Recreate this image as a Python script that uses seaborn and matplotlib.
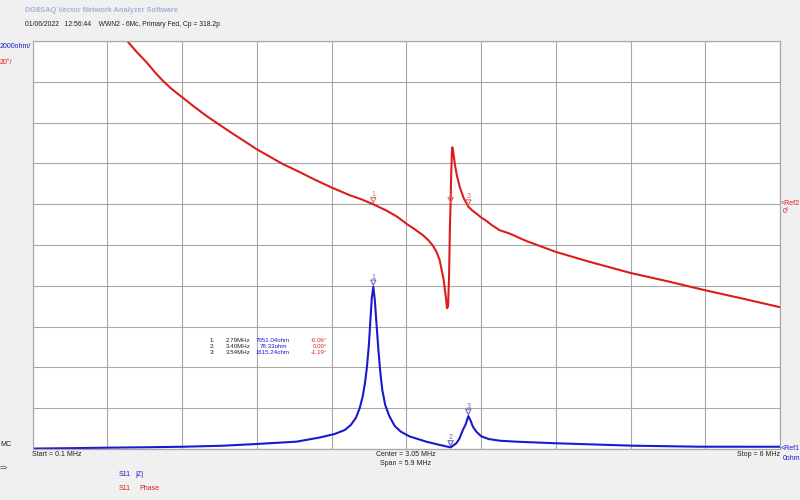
import numpy as np
import pandas as pd
import matplotlib
matplotlib.use("Agg")
import matplotlib.pyplot as plt
import seaborn as sns
from matplotlib.transforms import offset_copy

# ---------------- data ----------------
zmag_freq_mhz = [0.10, 0.40, 0.69, 1.00, 1.285, 1.60, 1.868, 2.184, 2.368, 2.484,
                 2.565, 2.612, 2.652, 2.683, 2.707, 2.723, 2.739, 2.755, 2.770, 2.778,
                 2.790, 2.802, 2.813, 2.829, 2.845, 2.861, 2.884, 2.916, 2.959, 3.007,
                 3.075, 3.209, 3.300, 3.400, 3.445, 3.468, 3.497, 3.520, 3.540, 3.559,
                 3.576, 3.602, 3.642, 3.700, 3.787, 3.919, 4.235, 4.839, 5.365, 6.000]
zmag_ohm = [20, 40, 64, 85, 110, 160, 245, 360, 564, 735,
            931, 1176, 1520, 2010, 2598, 3186, 3971, 5098, 6618, 7402,
            7951, 7304, 6324, 4951, 3775, 2892, 2157, 1618, 1128, 850,
            620, 358, 220, 78, 280, 490, 931, 1225, 1615, 1373,
            1093, 858, 620, 490, 407, 358, 280, 162, 113, 110]

phase_freq_mhz = [0.10, 0.40, 0.790, 0.853, 0.924, 1.000, 1.066, 1.132, 1.200, 1.282,
                  1.382, 1.477, 1.553, 1.658, 1.760, 1.868, 1.973, 2.066, 2.210, 2.329,
                  2.460, 2.604, 2.700, 2.790, 2.896, 2.980, 3.052, 3.117, 3.182, 3.224,
                  3.261, 3.290, 3.314, 3.346, 3.362, 3.372, 3.380, 3.388, 3.395, 3.400,
                  3.405, 3.410, 3.413, 3.420, 3.435, 3.450, 3.459, 3.472, 3.503, 3.540,
                  3.570, 3.604, 3.643, 3.683, 3.720, 3.785, 3.866, 4.000, 4.232, 4.500,
                  4.820, 5.100, 5.410, 5.700, 6.000]
phase_deg = [92, 90, 85.3, 79.6, 74.5, 69.6, 64.7, 60.3, 56.4, 52.4,
             47.5, 43.1, 39.9, 35.5, 31.4, 27.0, 23.3, 20.0, 15.7, 12.0,
             8.2, 4.4, 2.3, -0.06, -3.2, -6.2, -9.6, -12.3, -15.2, -17.6,
             -20.4, -23.5, -27.5, -37.3, -45.4, -51.0, -50.0, -35.0, -10.0, 0.0,
             15.0, 25.0, 27.9, 26.0, 19.0, 14.0, 11.8, 8.5, 3.0, -1.19,
             -3.0, -4.6, -6.6, -8.2, -10.0, -12.7, -14.4, -18.1, -23.4, -28.3,
             -33.7, -37.6, -42.2, -46.2, -50.5]

marker_ids = ["1", "2", "3"]
marker_freq_mhz = [2.79, 3.40, 3.54]
marker_freq_labels = ["2.79MHz", "3.40MHz", "3.54MHz"]
marker_zmag_ohm = [7951.04, 78.33, 1615.24]
marker_zmag_labels = ["7951.04ohm", "78.33ohm", "1615.24ohm"]
marker_phase_deg = [-0.06, 0.00, -1.19]
marker_phase_labels = ["-0.06°", "0.00°", "-1.19°"]

x_start, x_stop = 0.1, 6.0
z_min, z_max = 0, 20000
ph_min, ph_max = -120, 80
n_div = 10

# ---------------- style ----------------
BLUE = "#1a1acc"
RED = "#dd1c1c"
BLUE_M = "#6a6ac0"
RED_M = "#e06a6a"
GRID = "#a8a8a8"
BG = "#f0f0f0"
TXT = "#202020"

sns.set_theme(style="white")
plt.rcParams['font.family'] = ['Liberation Sans', 'DejaVu Sans']

fig = plt.figure(figsize=(8, 5), dpi=100, facecolor=BG)
W, H = 800, 500
L, R, T, B = 32.5, 780, 41, 449
ax = fig.add_axes([L / W, 1 - B / H, (R - L) / W, (B - T) / H])
ax.set_facecolor("white")
ax2 = ax.twinx()

df_z = pd.DataFrame({"f": zmag_freq_mhz, "z": zmag_ohm})
df_p = pd.DataFrame({"f": phase_freq_mhz, "p": phase_deg})

sns.lineplot(data=df_z, x="f", y="z", ax=ax, color=BLUE, linewidth=1.5,
             estimator=None, sort=False)
sns.lineplot(data=df_p, x="f", y="p", ax=ax2, color=RED, linewidth=1.5,
             estimator=None, sort=False)

ax.set_xlim(x_start, x_stop)
ax.set_ylim(z_min, z_max)
ax2.set_ylim(ph_min, ph_max)
ax.set_xticks(np.linspace(x_start, x_stop, n_div + 1))
ax.set_yticks(np.linspace(z_min, z_max, n_div + 1))
ax2.set_yticks([])
ax.grid(True, color=GRID, linewidth=0.8)
ax.tick_params(length=0, labelbottom=False, labelleft=False)
ax2.tick_params(length=0, labelright=False)
for a in (ax, ax2):
    a.set_xlabel("")
    a.set_ylabel("")
    for s in a.spines.values():
        s.set_color(GRID)
        s.set_linewidth(0.8)

# markers
tz = offset_copy(ax.transData, fig=fig, x=0, y=3, units="points")
ax.scatter(marker_freq_mhz, marker_zmag_ohm, marker="v", s=14, facecolors="none",
           edgecolors=BLUE_M, linewidths=0.8, transform=tz, zorder=5)
tp = offset_copy(ax2.transData, fig=fig, x=0, y=3, units="points")
ax2.scatter(marker_freq_mhz, marker_phase_deg, marker="v", s=14, facecolors="none",
            edgecolors=RED_M, linewidths=0.8, transform=tp, zorder=5)
for i, f in enumerate(marker_freq_mhz):
    ax.annotate(marker_ids[i], (f, marker_zmag_ohm[i]), xytext=(0, 7),
                textcoords="offset points", ha="center", va="center",
                fontsize=5, color=BLUE_M)
    ax2.annotate(marker_ids[i], (f, marker_phase_deg[i]), xytext=(0, 7),
                 textcoords="offset points", ha="center", va="center",
                 fontsize=5, color=RED_M)


def px(x, y, s, **kw):
    kw.setdefault("va", "center")
    kw.setdefault("fontsize", 5)
    fig.text(x / W, 1 - y / H, s, **kw)


# header
px(25, 11, "DG8SAQ Vector Network Analyzer Software", color="#a3b4d6",
   fontweight="bold", fontsize=5.3)
px(25, 24, "01/06/2022   12:56:44    WWN2 - 6Mc, Primary Fed, Cp = 318.2p",
   color=TXT, fontsize=4.9)
px(0, 46, "2000ohm/", color=BLUE)
px(0, 63, "20°/", color=RED)
px(0, 444, "MC", color=TXT)
px(0, 468, "=>", color=TXT)

# marker table
for i in range(3):
    y = 340 + i * 6.5
    px(210, y, f"{marker_ids[i]}:", color=TXT, fontsize=4.4)
    px(250, y, marker_freq_labels[i], color=TXT, ha="right", fontsize=4.4)
    px(273, y, marker_zmag_labels[i], color=BLUE, ha="center", fontsize=4.4)
    px(327, y, marker_phase_labels[i], color=RED, ha="right", fontsize=4.4)

# sweep info
px(32, 455, f"Start = {x_start:g} MHz", color=TXT)
px(406, 455, f"Center = {(x_start + x_stop) / 2:.2f} MHz", color=TXT, ha="center")
px(406, 463.5, f"Span = {x_stop - x_start:.1f} MHz", color=TXT, ha="center")
px(780, 455, f"Stop = {x_stop:g} MHz", color=TXT, ha="right")
px(781, 449, "<Ref1", color=BLUE)
px(783, 458, "0ohm", color=BLUE)
px(781, 204, "<Ref2", color=RED)
px(783, 212, "0°", color=RED)

# legend
px(119, 474, "S11", color=BLUE)
px(135, 474, "|Z|", color=BLUE)
px(119, 488, "S11", color=RED)
px(139, 488, "Phase", color=RED)

fig.savefig("out.png", dpi=100, facecolor=BG)
